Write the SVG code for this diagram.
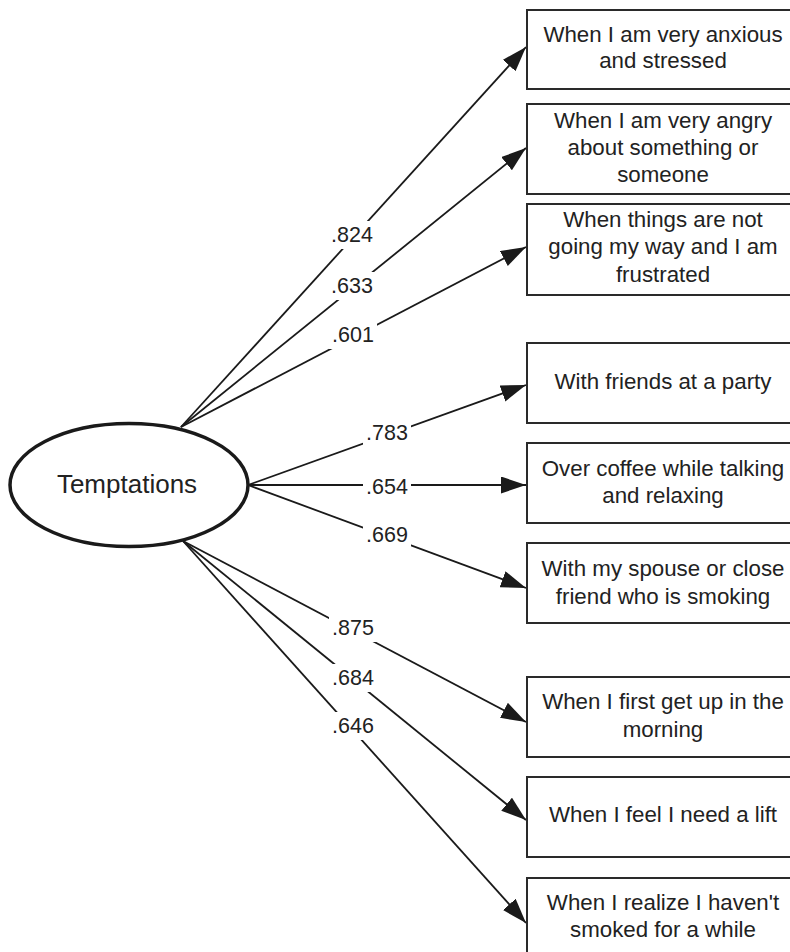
<svg xmlns="http://www.w3.org/2000/svg" width="790" height="952" viewBox="0 0 790 952">
<defs>
<marker id="ah" markerUnits="userSpaceOnUse" markerWidth="26" markerHeight="18" refX="25" refY="8.5" orient="auto">
<path d="M0,0 L25,8.5 L0,17 Z" fill="#1a1a1a"/>
</marker>
</defs>
<style>
.box{fill:#fff;stroke:#2a2a2a;stroke-width:2}
.bt{font-family:"Liberation Sans",Arial,sans-serif;font-size:22.3px;fill:#222;text-anchor:middle}
.lbl{font-family:"Liberation Sans",Arial,sans-serif;font-size:21.5px;fill:#222;text-anchor:middle}
.edge{stroke:#1a1a1a;stroke-width:1.8;fill:none}
.mask{fill:#fff}
</style>
<rect width="790" height="952" fill="#fff"/>
<g id="connectors">
<line class="edge" x1="181" y1="427" x2="526" y2="47" marker-end="url(#ah)"/>
<line class="edge" x1="181" y1="427" x2="526" y2="148" marker-end="url(#ah)"/>
<line class="edge" x1="181" y1="427" x2="526" y2="247" marker-end="url(#ah)"/>
<line class="edge" x1="248" y1="485" x2="526" y2="385" marker-end="url(#ah)"/>
<line class="edge" x1="248" y1="485" x2="526" y2="485" marker-end="url(#ah)"/>
<line class="edge" x1="248" y1="485" x2="526" y2="588" marker-end="url(#ah)"/>
<line class="edge" x1="183" y1="541" x2="526" y2="722" marker-end="url(#ah)"/>
<line class="edge" x1="183" y1="541" x2="526" y2="820" marker-end="url(#ah)"/>
<line class="edge" x1="183" y1="541" x2="526" y2="923" marker-end="url(#ah)"/>
<rect class="mask" x="328" y="221" width="48" height="28"/>
<rect class="mask" x="328" y="272" width="48" height="28"/>
<rect class="mask" x="329" y="321" width="48" height="28"/>
<rect class="mask" x="363" y="419" width="48" height="28"/>
<rect class="mask" x="363" y="473" width="48" height="28"/>
<rect class="mask" x="363" y="521" width="48" height="28"/>
<rect class="mask" x="329" y="614" width="48" height="28"/>
<rect class="mask" x="329" y="664" width="48" height="28"/>
<rect class="mask" x="329" y="712" width="48" height="28"/>
<text class="lbl" x="352" y="242">.824</text>
<text class="lbl" x="352" y="293">.633</text>
<text class="lbl" x="353" y="342">.601</text>
<text class="lbl" x="387" y="440">.783</text>
<text class="lbl" x="387" y="494">.654</text>
<text class="lbl" x="387" y="542">.669</text>
<text class="lbl" x="353" y="635">.875</text>
<text class="lbl" x="353" y="685">.684</text>
<text class="lbl" x="353" y="733">.646</text>
</g>
<g id="temptations">
<ellipse cx="129" cy="485" rx="119" ry="61.5" fill="#fff" stroke="#1a1a1a" stroke-width="3.5"/>
<text x="127" y="493" font-family="Liberation Sans, Arial, sans-serif" font-size="26" fill="#222" text-anchor="middle">Temptations</text>
</g>
<g id="item1">
<rect class="box" x="527" y="10" width="275" height="79"/>
<text class="bt" x="663" y="42">When I am very anxious</text>
<text class="bt" x="663" y="68">and stressed</text>
</g>
<g id="item2">
<rect class="box" x="527" y="104" width="275" height="90"/>
<text class="bt" x="663" y="128">When I am very angry</text>
<text class="bt" x="663" y="155">about something or</text>
<text class="bt" x="663" y="182">someone</text>
</g>
<g id="item3">
<rect class="box" x="527" y="204" width="275" height="91"/>
<text class="bt" x="663" y="227">When things are not</text>
<text class="bt" x="663" y="254">going my way and I am</text>
<text class="bt" x="663" y="282">frustrated</text>
</g>
<g id="item4">
<rect class="box" x="527" y="343" width="275" height="80"/>
<text class="bt" x="663" y="389">With friends at a party</text>
</g>
<g id="item5">
<rect class="box" x="527" y="443" width="275" height="80"/>
<text class="bt" x="663" y="476">Over coffee while talking</text>
<text class="bt" x="663" y="503">and relaxing</text>
</g>
<g id="item6">
<rect class="box" x="527" y="543" width="275" height="80"/>
<text class="bt" x="663" y="576">With my spouse or close</text>
<text class="bt" x="663" y="604">friend who is smoking</text>
</g>
<g id="item7">
<rect class="box" x="527" y="677" width="275" height="80"/>
<text class="bt" x="663" y="709">When I first get up in the</text>
<text class="bt" x="663" y="737">morning</text>
</g>
<g id="item8">
<rect class="box" x="527" y="777" width="275" height="80"/>
<text class="bt" x="663" y="822">When I feel I need a lift</text>
</g>
<g id="item9">
<rect class="box" x="527" y="878" width="275" height="90"/>
<text class="bt" x="663" y="910">When I realize I haven't</text>
<text class="bt" x="663" y="937">smoked for a while</text>
</g>
</svg>
